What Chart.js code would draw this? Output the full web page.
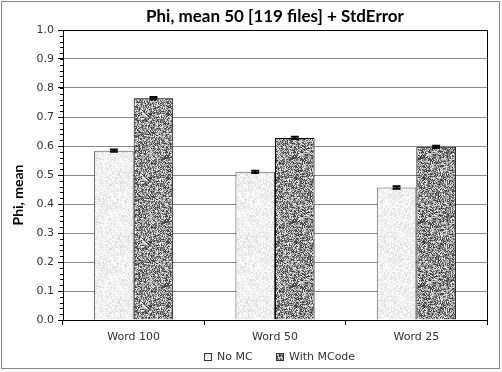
<!DOCTYPE html>
<html>
<head>
<meta charset="utf-8">
<script src="https://cdn.jsdelivr.net/npm/chart.js@4.4.1/dist/chart.umd.min.js"></script>
<style>
  html, body { margin: 0; padding: 0; background: #fff; }
  #wrap { position: relative; width: 502px; height: 372px; }
</style>
</head>
<body>
<div id="wrap"><canvas id="chart"></canvas></div>
<script>
const categories = ['Word 100', 'Word 50', 'Word 25'];
const seriesNames = ['No MC', 'With MCode'];
const noMc = [0.584, 0.511, 0.457];
const withMcode = [0.765, 0.628, 0.597];
const errNoMc = [0.004, 0.004, 0.004];
const errWithMcode = [0.004, 0.004, 0.004];
const titleText = 'Phi, mean 50 [119 files] + StdError';
const yTitle = 'Phi, mean';

// small seeded generator, only used for the bar fill texture
const lcg = seed => () => {
  seed = (seed * 1103515245 + 12345) & 0x7fffffff;
  return seed / 0x7fffffff;
};

const makePattern = (seed, shade) => {
  const c = document.createElement('canvas');
  c.width = 64; c.height = 64;
  const g = c.getContext('2d');
  const img = g.createImageData(64, 64);
  const rnd = lcg(seed);
  for (let i = 0; i < 64 * 64; i++) {
    const v = shade(rnd(), i);
    img.data[i * 4] = v; img.data[i * 4 + 1] = v; img.data[i * 4 + 2] = v; img.data[i * 4 + 3] = 255;
  }
  g.putImageData(img, 0, 0);
  return g.createPattern(c, 'repeat');
};

const lightFill = makePattern(7, r => r < 0.35 ? 220 + Math.floor(r * 40) : 236 + Math.floor(r * 19));
const darkFill = makePattern(13, r => Math.floor(45 + r * 205));

const extras = {
  id: 'extras',
  afterDatasetsDraw(chart) {
    const { ctx, scales: { y } } = chart;
    const errs = [errNoMc, errWithMcode];
    ctx.save();
    ctx.strokeStyle = '#000';
    ctx.lineWidth = 2;
    chart.data.datasets.forEach((ds, di) => {
      chart.getDatasetMeta(di).data.forEach((bar, i) => {
        const top = y.getPixelForValue(ds.data[i] + errs[di][i]);
        const bot = y.getPixelForValue(ds.data[i] - errs[di][i]);
        ctx.beginPath();
        ctx.moveTo(bar.x, top); ctx.lineTo(bar.x, bot);
        ctx.moveTo(bar.x - 4, top); ctx.lineTo(bar.x + 4, top);
        ctx.moveTo(bar.x - 4, bot); ctx.lineTo(bar.x + 4, bot);
        ctx.stroke();
      });
    });
    ctx.restore();
  },
  afterDraw(chart) {
    const { ctx, chartArea: a, scales: { y } } = chart;
    ctx.save();
    // plot frame
    ctx.strokeStyle = '#000';
    ctx.lineWidth = 1;
    ctx.strokeRect(Math.round(a.left) + 0.5, Math.round(a.top) + 0.5, Math.round(a.right - a.left), Math.round(a.bottom - a.top));
    // minor ticks
    ctx.beginPath();
    for (let v = 0; v <= 1.0001; v += 0.02) {
      const py = Math.round(y.getPixelForValue(v)) + 0.5;
      ctx.moveTo(a.left - 3, py); ctx.lineTo(a.left, py);
    }
    ctx.stroke();
    // outer frame
    ctx.strokeStyle = '#868686';
    ctx.strokeRect(1.5, 1.5, 498, 367);
    // title
    ctx.fillStyle = '#000';
    ctx.textAlign = 'center';
    ctx.textBaseline = 'middle';
    ctx.font = 'bold 17px Lato';
    ctx.fillText(titleText, (a.left + a.right) / 2, 17);
    // y axis title
    ctx.save();
    ctx.translate(18, 195);
    ctx.rotate(-Math.PI / 2);
    ctx.font = 'bold 14px Lato';
    ctx.fillText(yTitle, 0, 0);
    ctx.restore();
    // legend
    ctx.font = '11px "DejaVu Sans"';
    ctx.textAlign = 'left';
    const fills = [lightFill, darkFill];
    const xs = [204, 276];
    seriesNames.forEach((name, i) => {
      ctx.fillStyle = fills[i];
      ctx.fillRect(xs[i], 353, 8, 8);
      ctx.strokeStyle = '#333';
      ctx.strokeRect(xs[i] + 0.5, 353.5, 7, 7);
      ctx.fillStyle = '#333';
      ctx.fillText(name, xs[i] + 13, 357.5);
    });
    ctx.restore();
  }
};

new Chart(document.getElementById('chart'), {
  type: 'bar',
  data: {
    labels: categories,
    datasets: [
      { label: seriesNames[0], data: noMc, backgroundColor: lightFill, borderColor: '#555', borderWidth: 1 },
      { label: seriesNames[1], data: withMcode, backgroundColor: darkFill, borderColor: '#000', borderWidth: 1 }
    ]
  },
  options: {
    responsive: true,
    maintainAspectRatio: false,
    animation: false,
    layout: { padding: { top: 30, right: 15, bottom: 27, left: 0 } },
    datasets: { bar: { categoryPercentage: 0.56, barPercentage: 1.0 } },
    plugins: { legend: { display: false }, title: { display: false }, tooltip: { enabled: false } },
    scales: {
      x: {
        afterFit: s => { s.height = 25; },
        grid: { offset: true, drawOnChartArea: false, tickLength: 5, tickColor: '#000' },
        border: { color: '#000' },
        ticks: { color: '#333', padding: 6, font: { family: 'DejaVu Sans', size: 11 } }
      },
      y: {
        min: 0, max: 1,
        afterFit: s => { s.width = 63; },
        grid: { color: '#8a8a8a', tickLength: 5, tickColor: '#000' },
        border: { color: '#000' },
        ticks: { stepSize: 0.1, color: '#333', padding: 4, font: { family: 'DejaVu Sans', size: 11 }, callback: v => v.toFixed(1) }
      }
    }
  },
  plugins: [extras]
});
</script>
</body>
</html>
